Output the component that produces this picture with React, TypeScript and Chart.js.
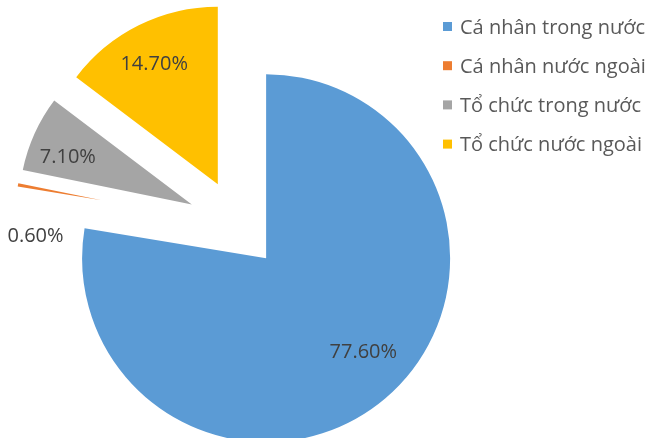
import React, { useEffect, useRef } from "react";
import { Chart, registerables } from "chart.js";

Chart.register(...registerables);

const categories = [
  "Cá nhân trong nước",
  "Cá nhân nước ngoài",
  "Tổ chức trong nước",
  "Tổ chức nước ngoài",
];
const shares = [77.6, 0.6, 7.1, 14.7];
const colors = ["#5B9BD5", "#ED7D31", "#A5A5A5", "#FFC000"];

// explosion of each slice (px from pie centre) and each slice's drawn radius
const explodeDistance = [43, 139, 51, 46];
const sliceRadius = [184, 85, 172.5, 177.5];
// data label placement: distance from pie centre and angular nudge (deg)
const labelDistance = [177, 203, 184, 183];
const labelShift = [-4.6, -13, -2.2, -0.9];

const FONT = "'Open Sans', 'Noto Sans', sans-serif";
const LABEL_SIZE = 20;
const LEGEND_SIZE = 20;

const explodePlugin = {
  id: "explodeSlices",
  beforeDatasetDraw(chart: any, args: any) {
    const ctx = chart.ctx;
    const meta = args.meta;
    meta.data.forEach((el: any, i: number) => {
      const { x, y, startAngle, endAngle, outerRadius } = el.getProps(
        ["x", "y", "startAngle", "endAngle", "outerRadius"],
        true
      );
      const mid = (startAngle + endAngle) / 2;
      const d = explodeDistance[i];
      const s = sliceRadius[i] / outerRadius;
      ctx.save();
      ctx.translate(x + d * Math.cos(mid), y + d * Math.sin(mid));
      ctx.scale(s, s);
      ctx.translate(-x, -y);
      el.draw(ctx);
      ctx.restore();
    });
    return false;
  },
  afterDatasetsDraw(chart: any) {
    const ctx = chart.ctx;
    const meta = chart.getDatasetMeta(0);
    const values = chart.data.datasets[0].data as number[];
    ctx.save();
    ctx.font = `${LABEL_SIZE}px ${FONT}`;
    ctx.fillStyle = "#404040";
    ctx.textAlign = "center";
    ctx.textBaseline = "alphabetic";
    meta.data.forEach((el: any, i: number) => {
      const { x, y, startAngle, endAngle } = el.getProps(
        ["x", "y", "startAngle", "endAngle"],
        true
      );
      const a = (startAngle + endAngle) / 2 + (labelShift[i] * Math.PI) / 180;
      const px = x + labelDistance[i] * Math.cos(a);
      const py = y + labelDistance[i] * Math.sin(a);
      ctx.fillText(`${values[i].toFixed(2)}%`, px, py + LABEL_SIZE * 0.357);
    });
    ctx.restore();

    // legend
    ctx.save();
    ctx.font = `${LEGEND_SIZE}px ${FONT}`;
    ctx.textAlign = "left";
    ctx.textBaseline = "alphabetic";
    (chart.data.labels as string[]).forEach((lab: string, i: number) => {
      const cy = 26.5 + i * 39.2;
      ctx.fillStyle = colors[i];
      ctx.fillRect(443, cy - 4.5, 9, 9);
      ctx.fillStyle = "#595959";
      ctx.fillText(lab, 460, cy + LEGEND_SIZE * 0.357);
    });
    ctx.restore();
  },
};

export default function App() {
  const ref = useRef<HTMLCanvasElement | null>(null);
  useEffect(() => {
    document.body.style.margin = "0";
    const chart = new Chart(ref.current as HTMLCanvasElement, {
      type: "pie",
      data: {
        labels: categories,
        datasets: [
          {
            data: shares,
            backgroundColor: colors,
            borderWidth: 0,
            clip: false as any,
          },
        ],
      },
      options: {
        animation: false,
        responsive: false,
        events: [],
        radius: 184,
        layout: { padding: { left: 0, right: 172.4, top: 12.8, bottom: 0 } },
        plugins: {
          legend: { display: false },
          tooltip: { enabled: false },
        },
      } as any,
      plugins: [explodePlugin],
    });
    return () => chart.destroy();
  }, []);
  return (
    <div style={{ position: "absolute", left: 0, top: 0, width: 649, height: 438 }}>
      <canvas ref={ref} width={649} height={438} style={{ display: "block" }} />
    </div>
  );
}
